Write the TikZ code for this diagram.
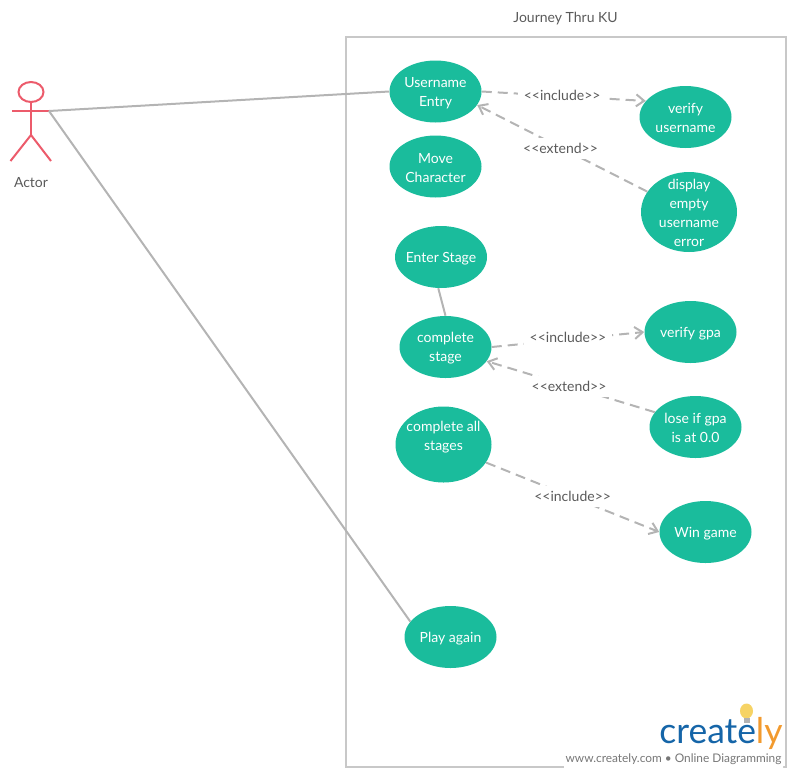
\documentclass[tikz,border=0pt]{standalone}
\usepackage{fontspec}
\setmainfont{Lato}
\usetikzlibrary{shapes.geometric,arrows.meta}
\definecolor{casegreen}{HTML}{1ABC9C}
\definecolor{actorred}{HTML}{EC5B6B}
\definecolor{linegray}{HTML}{B4B4B4}
\definecolor{boxgray}{HTML}{C8C8C8}
\definecolor{textgray}{HTML}{5A5A5A}
\definecolor{sitegray}{HTML}{777777}
\definecolor{logoblue}{HTML}{1565A8}
\definecolor{logoorange}{HTML}{F29A2E}
\definecolor{bulbyellow}{HTML}{F6D365}
\tikzset{
  casetext/.style={text=white,inner sep=0pt,align=center,yshift=-1pt,font=\fontsize{10.5}{14.25}\selectfont},
  usecase/.style={ellipse,fill=casegreen,minimum width=69pt,minimum height=46.5pt,inner sep=0pt,
    label={[casetext]center:{#1}}},
  assoc/.style={draw=linegray,line width=1.5pt},
  dep/.style={draw=linegray,line width=1.5pt,dash pattern=on 7.5pt off 4.5pt,-{Straight Barb[length=6pt,width=9pt,line width=1.5pt]}},
  plaintext/.style={text=textgray,font=\fontsize{10.5}{12.5}\selectfont},
  deplabel/.style={plaintext,fill=white,inner sep=4pt},
  actorline/.style={draw=actorred,line width=1.5pt},
}
\begin{document}
\begin{tikzpicture}[x=0.75pt,y=-0.75pt]
\useasboundingbox (0,0) rectangle (795,775);

%% System box
\draw[boxgray,line width=1.5pt] (346,37) rectangle (786,767);
\node[plaintext] (title) at (565.5,18.5) {Journey Thru KU};

%% Actor
\draw[actorline] (31,92) ellipse (12.5 and 10);
\draw[actorline] (31,102) -- (31,135);
\draw[actorline] (12,111) -- (49,111);
\draw[actorline] (10.5,161) -- (31,135) -- (51,161);
\coordinate (hand) at (49,111);
\node[plaintext] (actor) at (31,182.5) {Actor};

%% Use cases
\node[usecase={Username\\Entry}] (entry) at (435.5,91.5) {};
\node[usecase={Move\\Character}] (move) at (435.5,166.5) {};
\node[usecase={Enter Stage}] (enter) at (441,257) {};
\node[usecase={complete\\stage}] (stage) at (445.5,347) {};
\node[usecase={complete all\\stages\\[1pt]},minimum width=72pt,minimum height=57pt] (allstages) at (443.5,444.5) {};
\node[usecase={Play again}] (replay) at (450.5,637) {};
\node[usecase={verify\\username}] (verifyname) at (685.5,117) {};
\node[usecase={display\\empty\\username\\error},minimum width=72pt,minimum height=60pt] (emptyerror) at (689,212) {};
\node[usecase={verify gpa}] (verifygpa) at (690.5,332) {};
\node[usecase={lose if gpa\\is at 0.0}] (lose) at (695.5,427) {};
\node[usecase={Win game}] (win) at (705.5,532) {};

%% Associations
\draw[assoc] (hand) -- (entry.west);
\draw[assoc] (hand) -- (replay.159);
\draw[assoc] (enter.-95) -- (stage.north);

%% Dependencies
\draw[dep] (entry.east) -- (verifyname.158) node[deplabel,pos=0.49,yshift=0.75pt] (inc1) {<{}<include>{}>};
\draw[dep] (emptyerror.154) -- (entry.-18) node[deplabel,pos=0.51,yshift=-0.75pt] (ext1) {<{}<extend>{}>};
\draw[dep] (stage.east) -- (verifygpa.west) node[deplabel,pos=0.5,yshift=1.5pt] (inc2) {<{}<include>{}>};
\draw[dep] (lose.160) -- (stage.-19) node[deplabel,pos=0.51] (ext2) {<{}<extend>{}>};
\draw[dep] (allstages.-23) -- (win.west) node[deplabel,pos=0.5,yshift=0.75pt] (inc3) {<{}<include>{}>};

%% Logo
\fill[white,rounded corners=2pt] (564,750) rectangle (783,771);
\node[text=sitegray,font=\fontsize{8.9}{11}\selectfont] (site) at (673.5,759) {www.creately.com • Online Diagramming};
\node[font=\fontsize{26.6}{30}\selectfont,text=logoblue,inner sep=0pt] (logo) at (721,733) {create\textcolor{logoorange}{ly}};
\fill[bulbyellow] (746.5,711) ellipse (6.5 and 7.5);
\fill[gray!60] (744,718) rectangle (750,723);
\end{tikzpicture}
\end{document}
